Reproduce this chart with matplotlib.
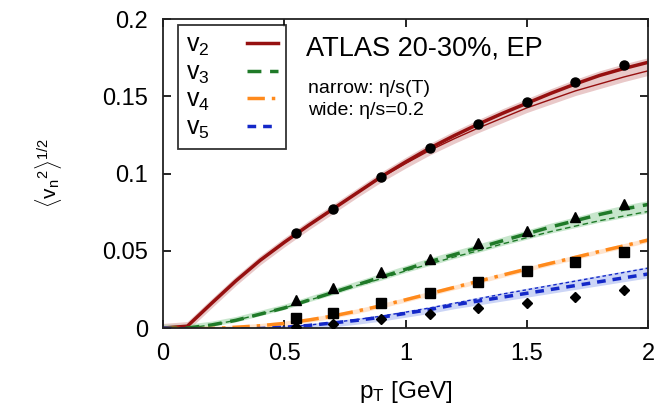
import matplotlib
matplotlib.use("Agg")
import matplotlib.pyplot as plt
import numpy as np

plt.rcParams['font.family'] = ['Liberation Sans', 'DejaVu Sans']
plt.rcParams['mathtext.fontset'] = 'custom'
plt.rcParams['mathtext.rm'] = 'Liberation Sans'
plt.rcParams['mathtext.it'] = 'Liberation Sans'

# ATLAS data points
pt_data = [0.55, 0.70, 0.90, 1.10, 1.30, 1.50, 1.70, 1.90]
v2_data = [0.0615, 0.077, 0.098, 0.1165, 0.132, 0.146, 0.159, 0.170]
v3_data = [0.018, 0.026, 0.036, 0.045, 0.055, 0.063, 0.072, 0.080]
v4_data = [0.0065, 0.0097, 0.016, 0.023, 0.030, 0.037, 0.043, 0.049]
v5_data = [0.0008, 0.0026, 0.006, 0.009, 0.013, 0.016, 0.020, 0.0246]

# hydro curves
pt_th = [0.0, 0.1, 0.2, 0.3, 0.4, 0.5, 0.6, 0.7, 0.8, 0.9, 1.0,
         1.1, 1.2, 1.3, 1.4, 1.5, 1.6, 1.7, 1.8, 1.9, 2.0]
v2_narrow = [0.0, 0.0012, 0.016, 0.0305, 0.0438, 0.0555, 0.0665, 0.077, 0.0875, 0.098, 0.1075,
             0.1165, 0.1245, 0.132, 0.139, 0.1455, 0.152, 0.158, 0.1635, 0.168, 0.172]
v2_wide = [0.0, 0.0012, 0.016, 0.0305, 0.0438, 0.0555, 0.0665, 0.077, 0.0875, 0.0975, 0.1065,
           0.115, 0.1225, 0.1295, 0.136, 0.1425, 0.148, 0.1535, 0.158, 0.1625, 0.1665]
v3_th = [0.0, 0.0, 0.002, 0.005, 0.009, 0.013, 0.018, 0.023, 0.028, 0.033, 0.038,
         0.043, 0.0475, 0.052, 0.0565, 0.061, 0.0655, 0.0695, 0.0735, 0.077, 0.080]
v3_th_lo = [0.0, 0.0, 0.002, 0.005, 0.009, 0.013, 0.018, 0.0225, 0.0275, 0.032, 0.037,
            0.0415, 0.046, 0.050, 0.0545, 0.0585, 0.0625, 0.066, 0.0695, 0.0725, 0.0755]
v4_th = [0.0, -0.0005, -0.0003, 0.0005, 0.0015, 0.003, 0.0052, 0.0078, 0.011, 0.0145, 0.0183,
         0.0223, 0.0263, 0.0303, 0.0343, 0.0382, 0.042, 0.0458, 0.0496, 0.0532, 0.057]
v5_th = [0.0, -0.0008, -0.001, -0.0008, -0.0003, 0.0005, 0.0017, 0.0033, 0.005, 0.007, 0.0095,
         0.012, 0.015, 0.0175, 0.020, 0.0225, 0.025, 0.0275, 0.030, 0.0325, 0.035]
v5_th_hi = [0.0, -0.0008, -0.001, -0.0008, -0.0003, 0.0006, 0.0019, 0.0036, 0.0055, 0.0077, 0.0103,
            0.013, 0.016, 0.019, 0.022, 0.0248, 0.0276, 0.0304, 0.0332, 0.036, 0.0388]

c2, c3, c4, c5 = '#961010', '#1f7a28', '#ff8a1c', '#1428c8'

fig = plt.figure(figsize=(6.71, 4.05), dpi=100)
ax = fig.add_axes([0.243, 0.19, 0.723, 0.763])

x = np.array(pt_th)
ax.fill_between(x, np.array(v2_wide) - 0.003, np.array(v2_narrow) + 0.003, color='#dba5a5', alpha=0.6, lw=0)
ax.fill_between(x, np.array(v3_th_lo) - 0.001, np.array(v3_th) + 0.0025, color='#a3d6ab', alpha=0.6, lw=0)
ax.fill_between(x, np.array(v4_th) - 0.0015, np.array(v4_th) + 0.0015, color='#ffd3ad', alpha=0.6, lw=0)
ax.fill_between(x, np.array(v5_th) - 0.0025, np.array(v5_th_hi) + 0.001, color='#aabaf0', alpha=0.6, lw=0)

ax.plot(x, v2_narrow, color=c2, lw=2.5, label='v$_2$')
ax.plot(x, v2_wide, color=c2, lw=1.0)
ax.plot(x, v3_th, color=c3, lw=2.5, ls=(0, (4, 2.5)), label='v$_3$')
ax.plot(x, v3_th_lo, color=c3, lw=1.0, ls=(0, (4, 2.5)))
ax.plot(x, v4_th, color=c4, lw=2.5, ls=(0, (5, 2, 1, 2)), label='v$_4$')
ax.plot(x, v5_th, color=c5, lw=2.5, ls=(0, (2.5, 2)), label='v$_5$')
ax.plot(x, v5_th_hi, color=c5, lw=1.0, ls=(0, (2.5, 2)))

ax.plot(pt_data, v2_data, 'o', color='black', ms=6.5, zorder=5)
ax.plot(pt_data, v3_data, '^', color='black', ms=7.5, zorder=5)
ax.plot(pt_data, v4_data, 's', color='black', ms=7, zorder=5)
ax.plot(pt_data, v5_data, 'D', color='black', ms=5.5, zorder=5)

ax.set_xlim(0, 2)
ax.set_ylim(0, 0.2)
ax.set_xticks([0, 0.5, 1, 1.5, 2])
ax.set_xticklabels(['0', '0.5', '1', '1.5', '2'])
ax.set_yticks([0, 0.05, 0.1, 0.15, 0.2])
ax.set_yticklabels(['0', '0.05', '0.1', '0.15', '0.2'])
ax.tick_params(direction='in', top=True, right=True, labelsize=17, length=6, width=1.2)
ax.tick_params(axis='x', pad=11)
ax.tick_params(axis='y', pad=11)
for s in ax.spines.values():
    s.set_linewidth(1.3)
    s.set_color('#222222')

ax.set_xlabel('p$_\\mathrm{T}$ [GeV]', fontsize=17.5, labelpad=10)
ax.set_ylabel(r'$\langle$v$_\mathrm{n}$$^2\rangle^{1/2}$', fontsize=15, labelpad=27)

leg = ax.legend(loc='upper left', bbox_to_anchor=(0.031, 0.98), borderaxespad=0, fontsize=18,
                frameon=True, fancybox=False, edgecolor='black', handlelength=1.25,
                handletextpad=1.5, labelspacing=0.1, borderpad=0.3, markerfirst=False)
leg.get_frame().set_linewidth(1.3)

ax.text(0.294, 0.905, 'ATLAS 20-30%, EP', transform=ax.transAxes, fontsize=19.5, va='center')
ax.text(0.299, 0.775, 'narrow: η/s(T)', transform=ax.transAxes, fontsize=14, va='center')
ax.text(0.299, 0.703, 'wide: η/s=0.2', transform=ax.transAxes, fontsize=14, va='center')

fig.savefig('out.png', dpi=100)
